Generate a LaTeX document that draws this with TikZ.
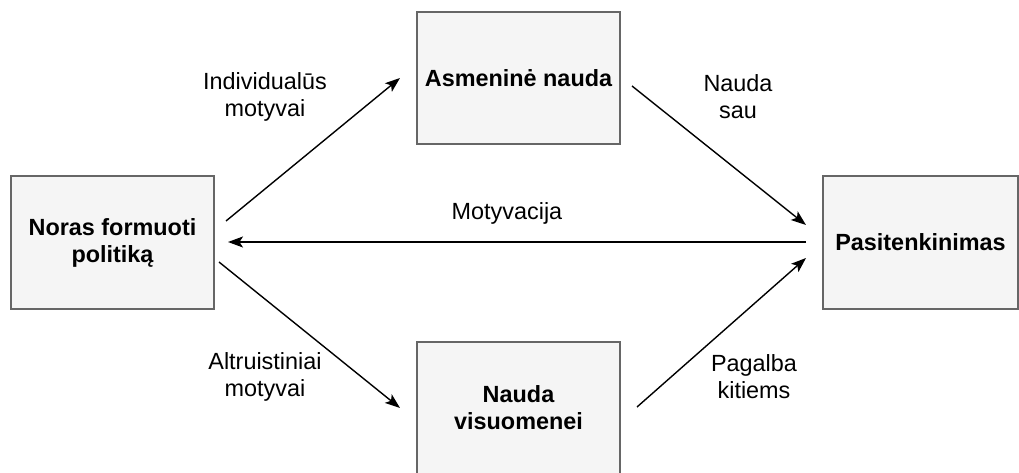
\documentclass[tikz,border=0pt]{standalone}
\usepackage{fontspec}
\setmainfont{Liberation Sans}
\usetikzlibrary{arrows.meta}
\definecolor{boxfill}{HTML}{F5F5F5}
\definecolor{boxline}{HTML}{666666}
\tikzset{
  box/.style={draw=boxline, fill=boxfill, line width=1.5pt, inner sep=0pt,
    align=center, font=\fontsize{23.4}{27}\selectfont\bfseries},
  lbl/.style={align=center, font=\fontsize{23.4}{27}\selectfont},
  conn/.style={line width=1.4pt, -{Stealth[length=15pt,width=11pt,inset=3.5pt]}}
}
\begin{document}
\begin{tikzpicture}[x=1pt,y=-1pt]
\useasboundingbox (0,0) rectangle (1019,473);

% boxes
\node[box, minimum width=203pt, minimum height=133pt] (noras) at (112.5,242.5) {Noras formuoti\\politiką};
\node[box, minimum width=203pt, minimum height=132pt] (asm) at (518.5,78) {Asmeninė nauda};
\node[box, minimum width=203pt, minimum height=132pt] (vis) at (518.5,408) {Nauda\\visuomenei};
\node[box, minimum width=195pt, minimum height=133pt] (pas) at (920.5,242.5) {Pasitenkinimas};

% connector end points in the gaps between boxes
\coordinate (n1) at (226,221);
\coordinate (a1) at (400,78);
\coordinate (a2) at (632,86);
\coordinate (p1) at (806,225);
\coordinate (p2) at (806,242);
\coordinate (n2) at (228,242);
\coordinate (n3) at (219,262);
\coordinate (v1) at (400,408);
\coordinate (v2) at (637,407);
\coordinate (p3) at (806,258);

\draw[conn] (n1) -- (a1);
\draw[conn] (a2) -- (p1);
\draw[conn] (p2) -- (n2);
\draw[conn] (n3) -- (v1);
\draw[conn] (v2) -- (p3);

% labels
\node[lbl] (l1) at (265,97) {Individualūs\\motyvai};
\node[lbl] (l2) at (738,97) {Nauda\\sau};
\node[lbl] (l3) at (507,213) {Motyvacija};
\node[lbl] (l4) at (265,377) {Altruistiniai\\motyvai};
\node[lbl] (l5) at (754,377) {Pagalba\\kitiems};
\end{tikzpicture}
\end{document}
